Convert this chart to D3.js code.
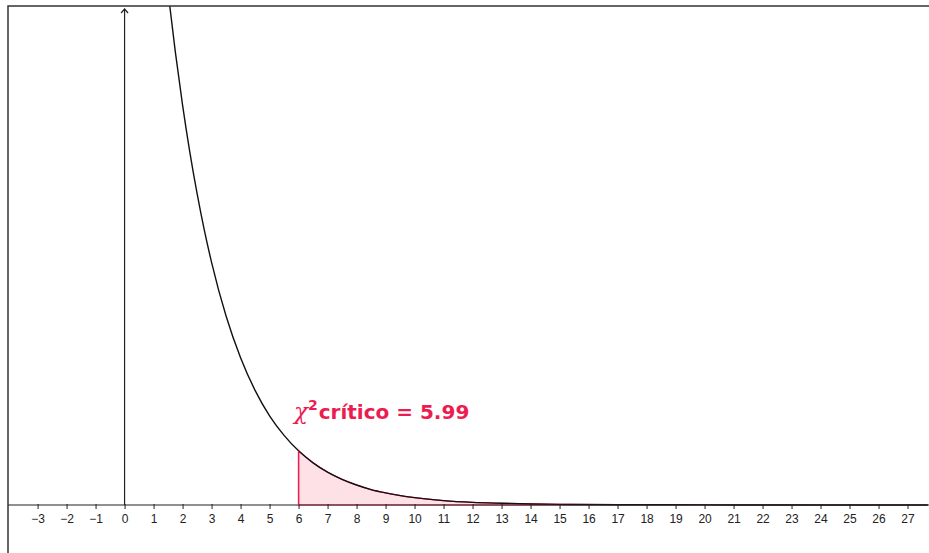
<!DOCTYPE html>
<meta charset="utf-8">
<style>
body { margin: 0; background: #fff; }
.tick text { font: 12px "Liberation Sans", Arial, sans-serif; fill: #222; }
</style>
<svg width="929" height="553"></svg>
<script src="https://d3js.org/d3.v7.min.js"></script>
<script>

// values (chi-square density, 2 d.f.)
var curveX = [1.5, 1.75, 2, 2.25, 2.5, 2.75, 3, 3.5, 4, 4.5, 5, 5.5, 6, 6.5, 7, 7.5, 8, 8.5, 9, 10, 11, 12, 13, 14, 15, 16, 17, 18, 20, 22, 24, 26, 27.7];
var curveY = [0.236, 0.2084, 0.1839, 0.1623, 0.1433, 0.1264, 0.1116, 0.0869, 0.0677, 0.0527, 0.0410, 0.0320, 0.0249, 0.0194, 0.0151, 0.0118, 0.0092, 0.0071, 0.0056, 0.0034, 0.0020, 0.0012, 0.0008, 0.0005, 0.0003, 0.0002, 0.0001, 0.0001, 0.00005, 0.00002, 0.00001, 0, 0];
var critical = 6;
var tickValues = d3.range(-3, 28);
var labelText = "crítico = 5.99";

var svg = d3.select("svg"),
    width = +svg.attr("width"),
    height = +svg.attr("height");

var padLeft = 8, padTop = 6;
var x = d3.scaleLinear().domain([-4.02, 27.74]).range([padLeft, width]);
var y = d3.scaleLinear().domain([0, 0.2295]).range([505, padTop]);

var red = "#ec1c50";

var pts = curveX.map(function(d, i) { return {x: d, y: curveY[i]}; });
var tail = pts.filter(function(d) { return d.x >= critical; });

svg.append("clipPath").attr("id", "plot")
  .append("rect").attr("x", padLeft).attr("y", padTop).attr("width", width - padLeft).attr("height", height - padTop);

var g = svg.append("g").attr("clip-path", "url(#plot)");

// shaded tail
g.append("path")
    .datum(tail)
    .attr("fill", "#fde1e7")
    .attr("stroke", red)
    .attr("stroke-width", 1.2)
    .attr("d", d3.area()
      .x(function(d) { return x(d.x); })
      .y0(y(0))
      .y1(function(d) { return y(d.y); })
      .curve(d3.curveMonotoneX));

// x axis
var xAxis = d3.axisBottom(x)
    .tickValues(tickValues)
    .tickSize(4)
    .tickFormat(function(d) { return d < 0 ? "\u2212" + (-d) : d; });

var ax = svg.append("g")
    .attr("transform", "translate(0," + y(0) + ")")
    .call(xAxis);
ax.select(".domain").attr("d", "M" + padLeft + ",0H" + width).attr("stroke", "#222").attr("stroke-width", 1.2);
ax.selectAll(".tick line").attr("stroke", "#222").attr("y1", -1);
ax.selectAll(".tick text").attr("dy", "0.95em");

// y axis with arrow
svg.append("line")
    .attr("x1", x(0)).attr("x2", x(0))
    .attr("y1", y(0)).attr("y2", 9)
    .attr("stroke", "#222").attr("stroke-width", 1.2);
svg.append("path")
    .attr("d", "M" + (x(0) - 3.5) + ",13L" + x(0) + ",9L" + (x(0) + 3.5) + ",13")
    .attr("fill", "none").attr("stroke", "#222").attr("stroke-width", 1.2);

// density curve
g.append("path")
    .datum(pts)
    .attr("fill", "none")
    .attr("stroke", "#111")
    .attr("stroke-width", 1.4)
    .attr("d", d3.line()
      .x(function(d) { return x(d.x); })
      .y(function(d) { return y(d.y); })
      .curve(d3.curveMonotoneX));

// critical line
svg.append("line")
    .attr("x1", x(critical)).attr("x2", x(critical))
    .attr("y1", y(0)).attr("y2", y(curveY[curveX.indexOf(critical)]))
    .attr("stroke", red).attr("stroke-width", 1.4);

// label
var lab = svg.append("text")
    .attr("x", 294).attr("y", 419)
    .attr("fill", red)
    .style("font-family", "'DejaVu Sans', sans-serif")
    .style("font-weight", "bold")
    .style("font-size", "20px");
lab.append("tspan").text("\u03c7").style("font-family", "'DejaVu Serif', serif").style("font-style", "italic").style("font-weight", "normal").style("font-size", "23px");
lab.append("tspan").text("2").attr("dy", -9).style("font-size", "14px");
lab.append("tspan").text(labelText).attr("dy", 9).attr("dx", 1);

// frame
svg.append("path")
    .attr("d", "M" + padLeft + "," + height + "V" + padTop + "H" + width)
    .attr("fill", "none").attr("stroke", "#333").attr("stroke-width", 1.5);

</script>
